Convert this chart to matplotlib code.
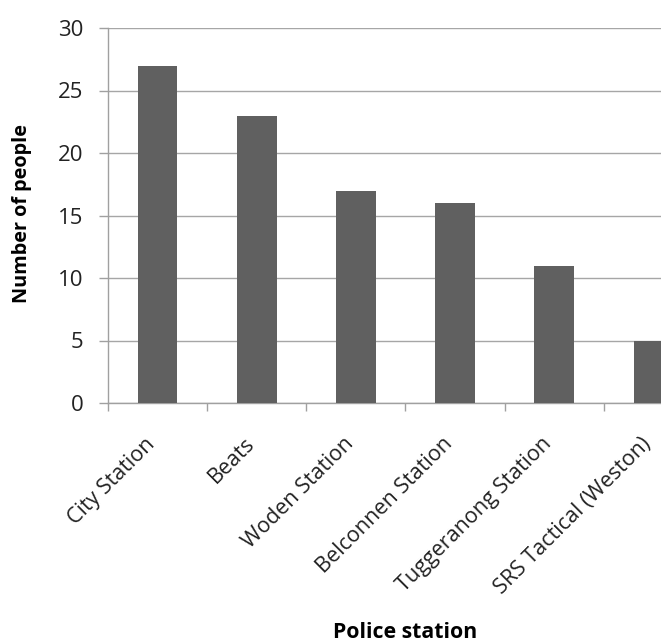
import numpy as np
import matplotlib.pyplot as plt
from matplotlib.transforms import ScaledTranslation

stations = ["City Station", "Beats", "Woden Station", "Belconnen Station",
            "Tuggeranong Station", "SRS Tactical (Weston)"]
people = [27, 23, 17, 16, 11, 5]

plt.rcParams["font.family"] = ["Open Sans", "DejaVu Sans"]

fig = plt.figure(figsize=(6.61, 6.42), dpi=100)
# axes run past the right edge, so the last bar is clipped by the figure
ax = fig.add_axes([108 / 661, 239 / 642, 595 / 661, 375 / 642])

x = np.arange(len(stations))
ax.bar(x, people, width=0.4, color="#606060", zorder=3)

ax.set_xlim(-0.5, len(stations) - 0.5)
ax.set_ylim(0, 30)
ax.set_yticks(range(0, 31, 5))
ax.yaxis.grid(True, color="#a6a6a6", linewidth=1.0, zorder=0)

# category labels sit under the bars, ticks sit between categories
ax.set_xticks(x)
ax.set_xticklabels(stations, rotation=45, ha="right", rotation_mode="anchor",
                   fontsize=15.5, color="#222222")
ax.tick_params(axis="x", which="major", length=0, pad=22)
shift = ScaledTranslation(-13 / 100, 0, fig.dpi_scale_trans)
for lab in ax.get_xticklabels():
    lab.set_transform(lab.get_transform() + shift)
ax.set_xticks(np.arange(-0.5, len(stations), 1), minor=True)
ax.tick_params(axis="x", which="minor", length=6, color="#a0a0a0", width=1)
ax.tick_params(axis="y", length=6.5, color="#a0a0a0", width=1, labelsize=16,
               labelcolor="#222222", pad=11)

for side in ["top", "right"]:
    ax.spines[side].set_visible(False)
for side in ["left", "bottom"]:
    ax.spines[side].set_color("#a0a0a0")
    ax.spines[side].set_linewidth(1.0)

ax.set_ylabel("Number of people", fontsize=14.3, fontweight="bold")
ax.yaxis.set_label_coords(-0.128, 0.505)
ax.set_xlabel("Police station", fontsize=15.3, fontweight="bold")
ax.xaxis.set_label_coords(0.5, -0.583)

plt.savefig("out.png", dpi=100)
